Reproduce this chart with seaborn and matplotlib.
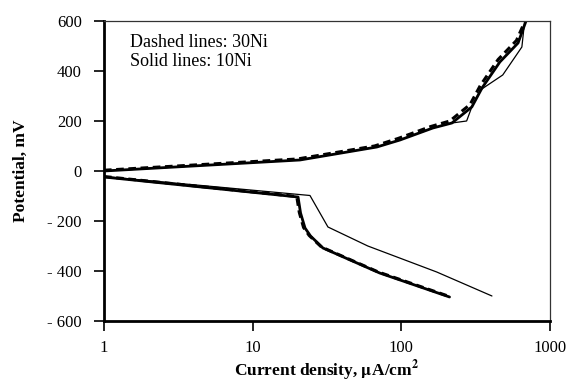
"""
Polarization curves, 10Ni vs 30Ni
"""
import numpy as np
import pandas as pd
import seaborn as sns
import matplotlib
matplotlib.use("Agg")
import matplotlib.pyplot as plt
from matplotlib.ticker import FuncFormatter, FixedLocator

# Anodic branches (current density uA/cm2, potential mV)
anodic_10ni_i = [1, 20.8, 68.5, 98, 163, 219, 298, 349, 460, 610, 690]
anodic_10ni_e = [0, 44, 96, 124, 172, 192, 256, 332, 436, 512, 600]
anodic_10ni_thin_i = [1, 20.8, 68.5, 98, 163, 219, 275, 298, 340, 481, 647, 676]
anodic_10ni_thin_e = [0, 44, 96, 124, 172, 192, 200, 256, 324, 384, 496, 600]
anodic_30ni_i = [1, 20, 66, 95, 158, 212, 290, 340, 448, 595, 680]
anodic_30ni_e = [3, 48, 100, 130, 178, 200, 266, 342, 446, 522, 600]

# Cathodic branches
cathodic_10ni_i = [1, 20.2, 21, 22.5, 24.5, 29.7, 71.5, 211]
cathodic_10ni_e = [-24, -104, -168, -228, -260, -308, -408, -504]
cathodic_10ni_thin_i = [1, 24.3, 32.1, 59.5, 173, 407]
cathodic_10ni_thin_e = [-22, -98, -224, -300, -404, -500]
cathodic_30ni_i = [1, 19.8, 20.6, 22, 24, 29, 70, 206]
cathodic_30ni_e = [-22, -102, -166, -226, -258, -304, -404, -500]

x_ticks = [1, 10, 100, 1000]
y_ticks = [-600, -400, -200, 0, 200, 400, 600]

sns.set_style("ticks")
plt.rcParams["font.family"] = ["Liberation Serif", "DejaVu Serif"]
plt.rcParams["mathtext.fontset"] = "stix"
plt.rcParams["text.color"] = "black"
plt.rcParams["axes.labelcolor"] = "black"

fig = plt.figure(figsize=(5.66, 3.81), dpi=100)
ax = fig.add_axes([0.1837, 0.1575, 0.7880, 0.7874])

thick = dict(color="black", linewidth=2.0, sort=False, estimator=None, ax=ax)
thin = dict(color="black", linewidth=0.9, sort=False, estimator=None, ax=ax)
dashed = dict(color="black", linewidth=2.2, linestyle=(0, (2.5, 1.5)), sort=False,
              estimator=None, ax=ax)

sns.lineplot(x=anodic_10ni_thin_i, y=anodic_10ni_thin_e, **thin)
sns.lineplot(x=cathodic_10ni_thin_i, y=cathodic_10ni_thin_e, **thin)
sns.lineplot(x=anodic_10ni_i, y=anodic_10ni_e, **thick)
sns.lineplot(x=cathodic_10ni_i, y=cathodic_10ni_e, **thick)
sns.lineplot(x=anodic_30ni_i, y=anodic_30ni_e, **dashed)
sns.lineplot(x=cathodic_30ni_i, y=cathodic_30ni_e, **dashed)

ax.set_xscale("log")
ax.set_xlim(1, 1000)
ax.set_ylim(-600, 600)
ax.xaxis.set_major_locator(FixedLocator(x_ticks))
ax.xaxis.set_minor_locator(FixedLocator([]))
ax.xaxis.set_major_formatter(FuncFormatter(lambda v, p: f"{v:g}"))
ax.yaxis.set_major_locator(FixedLocator(y_ticks))
ax.yaxis.set_major_formatter(
    FuncFormatter(lambda v, p: f"- {abs(int(v))}" if v < 0 else f"{int(v)}"))
ax.tick_params(axis="both", direction="out", length=7, width=1.2, labelsize=12,
               colors="black")
ax.tick_params(axis="x", pad=7)
ax.tick_params(axis="y", pad=9)

for side in ["left", "bottom"]:
    ax.spines[side].set_linewidth(2.0)
    ax.spines[side].set_color("black")
for side in ["top", "right"]:
    ax.spines[side].set_visible(True)
    ax.spines[side].set_linewidth(0.9)
    ax.spines[side].set_color("#333333")

ax.set_xlabel("Current density, $\\mathbf{\\mu}$A/cm$^\\mathbf{2}$", fontsize=12.5,
              fontweight="bold", labelpad=1)
ax.set_ylabel("Potential, mV", fontsize=12.5, fontweight="bold", labelpad=13)

ax.text(0.058, 0.955, "Dashed lines: 30Ni\nSolid lines: 10Ni", transform=ax.transAxes,
        fontsize=13, va="top", ha="left", linespacing=1.15, color="black")

fig.savefig("out.png", dpi=100)
